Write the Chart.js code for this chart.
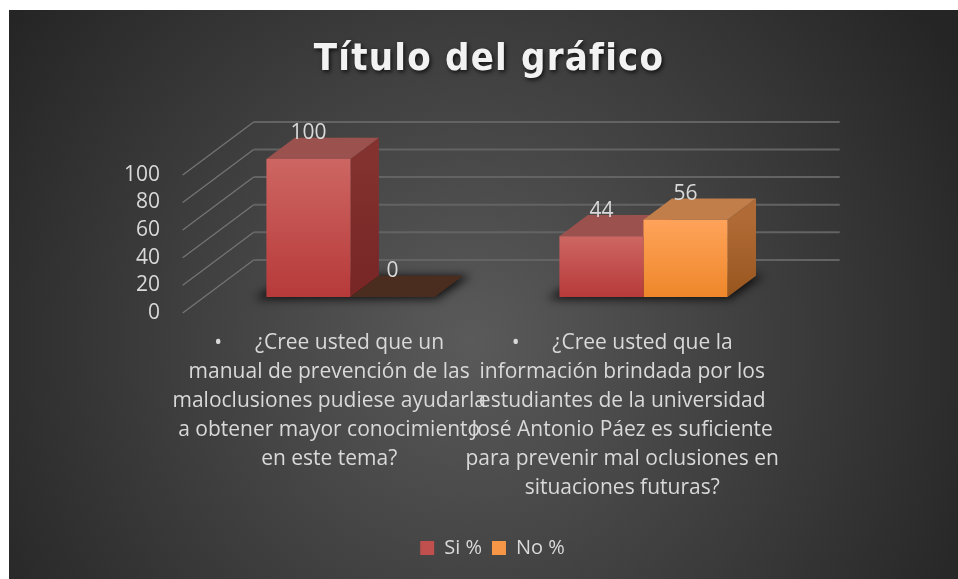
<!DOCTYPE html>
<html>
<head>
<meta charset="utf-8">
<script src="https://cdn.jsdelivr.net/npm/chart.js@4.4.0/dist/chart.umd.min.js"></script>
<style>
  html, body { margin: 0; padding: 0; background: #fff; }
  #marco { position: absolute; left: 9px; top: 10px; width: 949px; height: 569px; }
</style>
</head>
<body>
<div id="marco"><canvas id="grafico" width="949" height="569"></canvas></div>
<script>
// datos del grafico
const categorias = [
  ["\u2022      \u00bfCree usted que un", "manual de prevención de las", "maloclusiones pudiese ayudarla", "a obtener mayor conocimiento", "en este tema?"],
  ["\u2022      \u00bfCree usted que la", "información brindada por los", "estudiantes de la universidad", "José Antonio Páez es suficiente", "para prevenir mal oclusiones en", "situaciones futuras?"]
];
const siPct = [100, 44];
const noPct = [0, 56];
const ticksY = [0, 20, 40, 60, 80, 100];
const titulo = "Título del gráfico";

// estilos de las caras (frente arriba/abajo, tapa, lado)
const estilos = [
  { frente: ["#cd6662", "#b73a3a"], tapa: "#9b514d", lado: ["#84322f", "#772525"], leyenda: "#c0504d" },
  { frente: ["#ffa35a", "#ee872a"], tapa: "#c17e4a", lado: ["#b06a35", "#98561f"], tapa0: "#4a2d1e", leyenda: "#f79646" }
];
const PROF = { x: 71, y: -53 };   // vector de profundidad del suelo completo
const FUENTE = "'Open Sans', Lato, sans-serif";

function poligono(ctx, pts) {
  ctx.beginPath();
  pts.forEach((p, i) => i ? ctx.lineTo(p[0], p[1]) : ctx.moveTo(p[0], p[1]));
  ctx.closePath();
  ctx.fill();
}

function degradadoFrente(c, k) {
  const chart = c.chart;
  if (!chart.chartArea) return estilos[k].frente[1];
  const y = chart.scales.y;
  const top = y.getPixelForValue(c.raw);
  const base = y.getPixelForValue(0);
  const g = chart.ctx.createLinearGradient(0, top, 0, Math.max(base, top + 1));
  g.addColorStop(0, estilos[k].frente[0]);
  g.addColorStop(1, estilos[k].frente[1]);
  return g;
}

const tresD = {
  id: "tresD",
  beforeDraw(chart) {
    const { ctx, width, height } = chart;
    const g = ctx.createRadialGradient(462, 330, 0, 462, 330, 560);
    g.addColorStop(0, "#5a5a5a");
    g.addColorStop(1, "#252525");
    ctx.save();
    ctx.fillStyle = g;
    ctx.fillRect(0, 0, width, height);
    ctx.restore();
  },
  beforeDatasetsDraw(chart) {
    const { ctx, chartArea: a, scales: { y } } = chart;
    const dx = PROF.x, dy = PROF.y;
    ctx.save();
    // lineas de la pared del fondo y del lateral
    ticksY.forEach(v => {
      const py = y.getPixelForValue(v);
      ctx.strokeStyle = "#747474";
      ctx.lineWidth = 1.3;
      ctx.beginPath();
      ctx.moveTo(a.left - 0.3 * dx, py - 0.3 * dy);
      ctx.lineTo(a.left + 0.7 * dx, py + 0.7 * dy);
      ctx.stroke();
      ctx.strokeStyle = "#636363";
      ctx.lineWidth = 2;
      ctx.beginPath();
      ctx.moveTo(a.left + 0.7 * dx, py + 0.7 * dy);
      ctx.lineTo(a.right + 0.7 * dx, py + 0.7 * dy);
      ctx.stroke();
    });

    const metas = chart.getSortedVisibleDatasetMetas();
    const bdx = 0.4 * dx, bdy = 0.4 * dy;
    const b0 = y.getPixelForValue(0);
    categorias.forEach((cat, i) => {
      const barras = metas.map(m => m.data[i]);
      const l = Math.min(...barras.map(b => b.x - b.width / 2));
      const r = Math.max(...barras.map(b => b.x + b.width / 2));
      // sombra en el suelo
      ctx.save();
      ctx.filter = "blur(5px)";
      ctx.fillStyle = "rgba(0,0,0,0.8)";
      poligono(ctx, [[l - 12, b0 + 2], [r + 2, b0 + 2], [r + bdx + 8, b0 + bdy], [l + bdx - 6, b0 + bdy]]);
      ctx.restore();

      metas.forEach((m, k) => {
        const el = m.data[i];
        const L = el.x - el.width / 2, R = el.x + el.width / 2;
        const T = el.y, B = el.base;
        const est = estilos[k];
        if (B - T > 0.5) {
          const gl = ctx.createLinearGradient(0, T, 0, B);
          gl.addColorStop(0, est.lado[0]);
          gl.addColorStop(1, est.lado[1]);
          ctx.fillStyle = gl;
          poligono(ctx, [[R, B], [R, T], [R + bdx, T + bdy], [R + bdx, B + bdy]]);
          ctx.fillStyle = est.tapa;
        } else {
          ctx.fillStyle = est.tapa0 || est.tapa;
        }
        poligono(ctx, [[L, T], [R, T], [R + bdx, T + bdy], [L + bdx, T + bdy]]);
      });
    });
    ctx.restore();
  },
  afterDatasetsDraw(chart) {
    const { ctx } = chart;
    const bdy = 0.4 * PROF.y;
    ctx.save();
    ctx.fillStyle = "#d9d9d9";
    ctx.font = "21px " + FUENTE;
    ctx.textAlign = "center";
    ctx.textBaseline = "middle";
    chart.getSortedVisibleDatasetMetas().forEach(m => {
      m.data.forEach((el, i) => {
        const v = chart.data.datasets[m.index].data[i];
        ctx.fillText(String(v), el.x, el.y + bdy - 4.5);
      });
    });
    ctx.restore();
  },
  afterDraw(chart) {
    const { ctx } = chart;
    ctx.save();
    ctx.font = "bold 38px 'Liberation Sans Narrow', 'DejaVu Sans Condensed', sans-serif";
    ctx.letterSpacing = "1.2px";
    ctx.textAlign = "center";
    ctx.textBaseline = "alphabetic";
    ctx.shadowColor = "rgba(0,0,0,0.75)";
    ctx.shadowBlur = 4;
    ctx.shadowOffsetX = 1.5;
    ctx.shadowOffsetY = 2;
    ctx.fillStyle = "#f2f2f2";
    ctx.fillText(titulo, 480, 60);
    ctx.restore();
  }
};

new Chart(document.getElementById("grafico"), {
  type: "bar",
  data: {
    labels: categorias,
    datasets: [
      { label: "Si %", data: siPct, backgroundColor: c => degradadoFrente(c, 0) },
      { label: "No %", data: noPct, backgroundColor: c => degradadoFrente(c, 1) }
    ]
  },
  options: {
    responsive: false,
    animation: false,
    layout: { padding: { top: 149, right: 0, bottom: 11, left: 18 } },
    datasets: { bar: { categoryPercentage: 0.574, barPercentage: 1, borderWidth: 0 } },
    scales: {
      x: {
        grid: { display: false, drawTicks: false },
        border: { display: false },
        ticks: {
          autoSkip: false, maxRotation: 0, minRotation: 0,
          color: "#d9d9d9",
          font: { family: FUENTE, size: 21, lineHeight: "29px" },
          labelOffset: -0.3 * PROF.x,
          padding: 32
        },
        afterFit(s) { s.height = 231; }
      },
      y: {
        min: 0, max: 100,
        grid: { display: false, drawTicks: false },
        border: { display: false },
        afterBuildTicks(s) { s.ticks = ticksY.map(v => ({ value: v })); },
        ticks: {
          autoSkip: false,
          color: "#d9d9d9",
          font: { family: FUENTE, size: 21 },
          labelOffset: -0.3 * PROF.y,
          padding: 44
        },
        afterFit(s) { s.width = 177; }
      },
      margenDer: {
        type: "linear",
        position: "right",
        grid: { display: false, drawTicks: false },
        border: { display: false },
        ticks: { display: false },
        afterFit(s) { s.width = 168; }
      }
    },
    plugins: {
      title: { display: false },
      tooltip: { enabled: false },
      legend: {
        position: "bottom",
        labels: {
          color: "#d9d9d9",
          font: { family: FUENTE, size: 20 },
          boxWidth: 14, boxHeight: 14, padding: 10,
          generateLabels(chart) {
            return chart.data.datasets.map((d, k) => ({
              text: d.label, fillStyle: estilos[k].leyenda, strokeStyle: estilos[k].leyenda,
              lineWidth: 0, datasetIndex: k, fontColor: "#d9d9d9"
            }));
          }
        }
      }
    }
  },
  plugins: [tresD]
});
</script>
</body>
</html>
